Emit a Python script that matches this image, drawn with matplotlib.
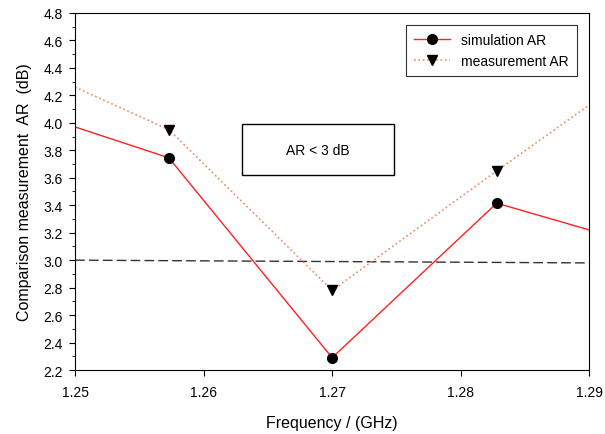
import matplotlib
matplotlib.use("Agg")
import matplotlib.pyplot as plt
from matplotlib.ticker import MultipleLocator
from matplotlib.patches import Rectangle

plt.rcParams['font.family'] = ['Liberation Sans', 'DejaVu Sans']

# Data
freq = [1.25, 1.2573, 1.27, 1.2828, 1.29]
sim_ar = [3.97, 3.745, 2.29, 3.415, 3.22]
meas_ar = [4.26, 3.95, 2.78, 3.65, 4.13]
limit_x = [1.25, 1.29]
limit_y = [3.0, 2.98]

# note box "AR < 3 dB" (data coords)
box_x0, box_x1 = 1.2630, 1.2748
box_y0, box_y1 = 3.62, 3.99

fig = plt.figure(figsize=(6.05, 4.35), dpi=100)
ax = fig.add_axes([0.124, 0.147, 0.85, 0.821])

ax.plot(limit_x, limit_y, color='#333333', linestyle=(0, (7, 3)), linewidth=1.0)
ax.plot(freq, sim_ar, color='#ff2020', linewidth=1.0, marker='o', markersize=7,
        markerfacecolor='black', markeredgecolor='black', markevery=[1, 2, 3],
        label='simulation AR')
ax.plot(freq, meas_ar, color='#f08a60', linestyle=':', linewidth=1.2, marker='v',
        markersize=7, markerfacecolor='black', markeredgecolor='black',
        markevery=[1, 2, 3], label='measurement AR')

ax.add_patch(Rectangle((box_x0, box_y0), box_x1 - box_x0, box_y1 - box_y0,
                       facecolor='white', edgecolor='black', linewidth=1.0, zorder=3))
ax.text((box_x0 + box_x1) / 2, (box_y0 + box_y1) / 2, 'AR < 3 dB', fontsize=10,
        ha='center', va='center', zorder=4)

ax.set_xlim(1.25, 1.29)
ax.set_ylim(2.2, 4.8)
ax.set_xticks([1.25, 1.26, 1.27, 1.28, 1.29])
ax.set_xticklabels(['1.25', '1.26', '1.27', '1.28', '1.29'])
ax.yaxis.set_major_locator(MultipleLocator(0.2))
ax.yaxis.set_minor_locator(MultipleLocator(0.1))
ax.yaxis.set_major_formatter(plt.FormatStrFormatter('%.1f'))
ax.tick_params(axis='both', labelsize=10, direction='out', length=4, width=0.8)
ax.tick_params(axis='x', pad=7)
ax.tick_params(axis='y', pad=5)
ax.tick_params(axis='y', which='minor', direction='out', length=2, width=0.6)

ax.set_xlabel('Frequency / (GHz)', fontsize=11.5, labelpad=11)
ax.set_ylabel('Comparison measurement  AR  (dB)', fontsize=11.5, labelpad=8)

leg = ax.legend(loc='upper right', fontsize=10, frameon=True, fancybox=False,
                edgecolor='black', handlelength=2.6, borderpad=0.6,
                bbox_to_anchor=(0.99, 0.987))
leg.get_frame().set_linewidth(0.8)

fig.savefig('out.png', dpi=100)
